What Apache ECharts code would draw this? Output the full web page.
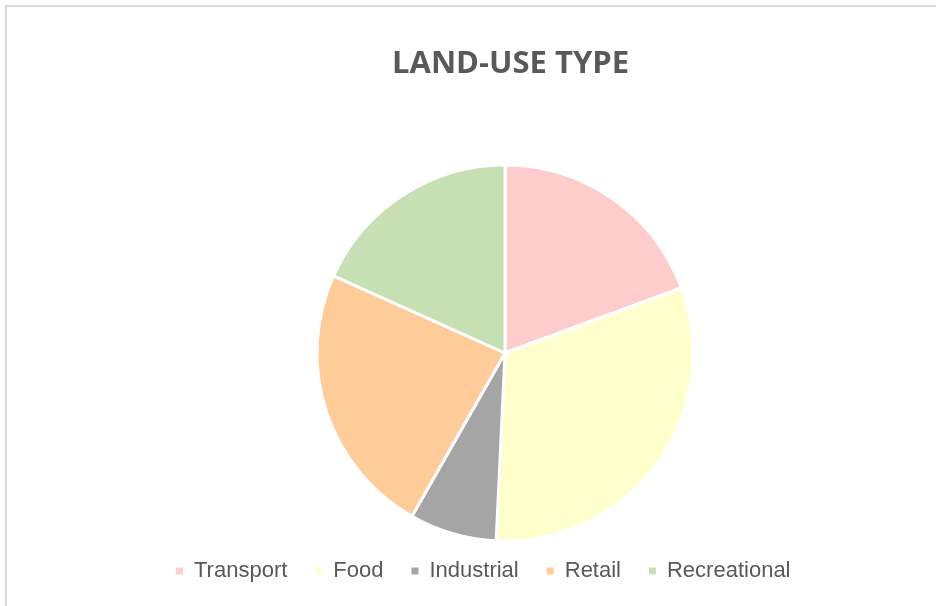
<!DOCTYPE html>
<html>
<head>
<meta charset="utf-8">
<script src="https://cdn.jsdelivr.net/npm/echarts@6/dist/echarts.min.js"></script>
<style>
  html, body { margin: 0; padding: 0; background: #fff; }
  #chart { width: 936px; height: 606px; }
</style>
</head>
<body>
<div id="chart"></div>
<script>
var categories = ['Transport', 'Food', 'Industrial', 'Retail', 'Recreational'];
var values = [19.4, 31.4, 7.5, 23.5, 18.3];
var colors = ['#FFCCCC', '#FFFFCC', '#A5A5A5', '#FFCC99', '#C6E0B4'];

var chart = echarts.init(document.getElementById('chart'));

var option = {
  animation: false,
  title: {
    text: 'LAND-USE TYPE',
    left: 387,
    top: 44,
    textStyle: {
      fontFamily: 'Open Sans',
      fontWeight: 'bold',
      fontSize: 31,
      color: '#595959'
    }
  },
  graphic: [{
    type: 'rect',
    shape: { x: 6, y: 6, width: 1000, height: 1000 },
    style: { fill: 'none', stroke: '#d9d9d9', lineWidth: 2 },
    silent: true
  }],
  legend: {
    data: categories,
    left: 169,
    top: 555,
    icon: 'rect',
    itemWidth: 9,
    itemHeight: 9,
    itemGap: 26,
    textStyle: {
      fontFamily: 'Liberation Sans',
      fontSize: 22,
      color: '#595959',
      padding: [0, 0, 0, 5]
    }
  },
  series: [{
    type: 'pie',
    center: [505, 353],
    radius: 188,
    startAngle: 90,
    clockwise: true,
    label: { show: false },
    labelLine: { show: false },
    itemStyle: { borderColor: '#fff', borderWidth: 3 },
    data: categories.map(function (c, i) {
      return { name: c, value: values[i], itemStyle: { color: colors[i] } };
    })
  }]
};

chart.setOption(option);
</script>
</body>
</html>
